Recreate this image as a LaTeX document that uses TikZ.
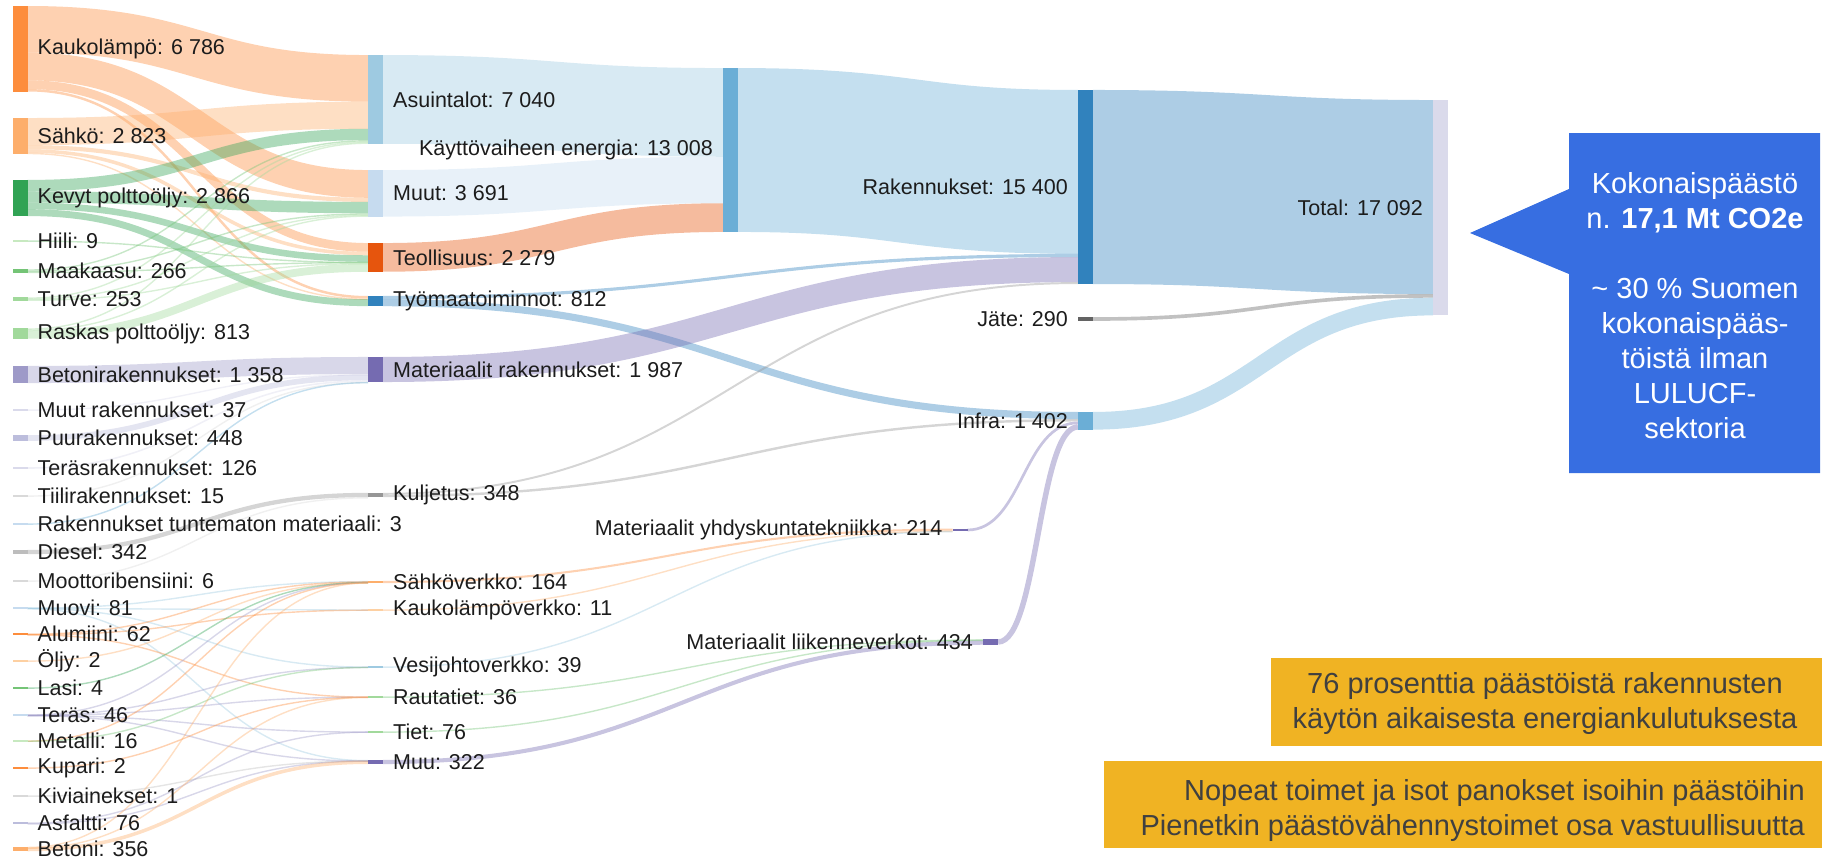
\documentclass[tikz,border=0pt]{standalone}
\usepackage{fontspec}
\setmainfont{Liberation Sans}
\usetikzlibrary{calc}
\pgfdeclarelayer{links}
\pgfsetlayers{links,main}

\definecolor{blueA}{HTML}{3182BD}
\definecolor{blueB}{HTML}{6BAED6}
\definecolor{blueC}{HTML}{9ECAE1}
\definecolor{blueD}{HTML}{C6DBEF}
\definecolor{oranA}{HTML}{E6550D}
\definecolor{oranB}{HTML}{FD8D3C}
\definecolor{oranC}{HTML}{FDAE6B}
\definecolor{oranD}{HTML}{FDD0A2}
\definecolor{grnA}{HTML}{31A354}
\definecolor{grnB}{HTML}{74C476}
\definecolor{grnC}{HTML}{A1D99B}
\definecolor{grnD}{HTML}{C7E9C0}
\definecolor{purA}{HTML}{756BB1}
\definecolor{purB}{HTML}{9E9AC8}
\definecolor{purC}{HTML}{BCBDDC}
\definecolor{purD}{HTML}{DADAEB}
\definecolor{grayA}{HTML}{636363}
\definecolor{grayB}{HTML}{969696}
\definecolor{grayC}{HTML}{BDBDBD}
\definecolor{grayD}{HTML}{D9D9D9}
\definecolor{labtext}{HTML}{1C1C1C}
\definecolor{calloutblue}{HTML}{376EE1}
\definecolor{noteyellow}{HTML}{F0B323}
\definecolor{notetext}{HTML}{404040}

\newcommand\ktpx{0.0126}
\newcommand\labfont{\fontsize{21.5}{25}\selectfont}
\newcommand\notefont{\fontsize{29}{35}\selectfont}

% band from src (offset, kt) to tgt (offset, kt)
\newcommand\flow[6][]{%
  \edef\flowW{\fpeval{max(#6*\ktpx,1.4)}}%
  \edef\flowA{\fpeval{#3*\ktpx+\flowW/2}}%
  \edef\flowB{\fpeval{#5*\ktpx+\flowW/2}}%
  \draw[#1, line width=\flowW pt] let \p1=($(#2.north east)+(0,\flowA)$),
                \p2=($(#4.north west)+(0,\flowB)$),
                \n1={0.5*(\x2-\x1)} in
    (\p1) .. controls +(\n1,0) and +(-\n1,0) .. (\p2);}

\begin{document}
\begin{tikzpicture}[
    x=1pt, y=-1pt,
    label distance=10pt,
    every label/.style={font=\labfont, inner sep=0pt, text=labtext},
    bar/.style={fill=#1, draw=none, inner sep=0pt, outer sep=0pt,
        minimum width=15pt},
    kt/.style={minimum height={\fpeval{max(#1*\ktpx,1.2)}pt}},
    band/.style={draw=#1, draw opacity=0.4}]
    \useasboundingbox (0,0) rectangle (1822,865);

    \node[bar=oranB, kt=6786, label={right:{Kaukolämpö: 6 786}}] (kauko) at (20,48.75) {};
    \node[bar=oranC, kt=2823, label={right:{Sähkö: 2 823}}] (sahko) at (20,135.8) {};
    \node[bar=grnA, kt=2866, label={right:{Kevyt polttoöljy: 2 866}}] (kevyt) at (20,198) {};
    \node[bar=grnD, kt=9, label={right:{Hiili: 9}}] (hiili) at (20,241) {};
    \node[bar=grnB, kt=266, label={right:{Maakaasu: 266}}] (maakaasu) at (20,271) {};
    \node[bar=grnC, kt=253, label={right:{Turve: 253}}] (turve) at (20,299) {};
    \node[bar=grnC, kt=813, label={right:{Raskas polttoöljy: 813}}] (raskas) at (20,333.5) {};
    \node[bar=purB, kt=1358, label={right:{Betonirakennukset: 1 358}}] (betonirak) at (20,374.5) {};
    \node[bar=purD, kt=37, label={right:{Muut rakennukset: 37}}] (muutrak) at (20,410) {};
    \node[bar=purC, kt=448, label={right:{Puurakennukset: 448}}] (puurak) at (20,438) {};
    \node[bar=purD, kt=126, label={right:{Teräsrakennukset: 126}}] (terasrak) at (20,468) {};
    \node[bar=grayD, kt=15, label={right:{Tiilirakennukset: 15}}] (tiili) at (20,496) {};
    \node[bar=blueD, kt=3, label={right:{Rakennukset tuntematon materiaali: 3}}] (tuntematon) at (20,524) {};
    \node[bar=grayC, kt=342, label={right:{Diesel: 342}}] (diesel) at (20,552) {};
    \node[bar=grayD, kt=6, label={right:{Moottoribensiini: 6}}] (moottori) at (20,581) {};
    \node[bar=blueD, kt=81, label={right:{Muovi: 81}}] (muovi) at (20,608) {};
    \node[bar=oranB, kt=62, label={right:{Alumiini: 62}}] (alumiini) at (20,634) {};
    \node[bar=oranD, kt=2, label={right:{Öljy: 2}}] (oljy) at (20,661) {};
    \node[bar=grnB, kt=4, label={right:{Lasi: 4}}] (lasi) at (20,688) {};
    \node[bar=blueD, kt=46, label={right:{Teräs: 46}}] (teras) at (20,715) {};
    \node[bar=grnD, kt=16, label={right:{Metalli: 16}}] (metalli) at (20,741) {};
    \node[bar=oranB, kt=2, label={right:{Kupari: 2}}] (kupari) at (20,768) {};
    \node[bar=grayD, kt=1, label={right:{Kiviainekset: 1}}] (kivi) at (20,796) {};
    \node[bar=purC, kt=76, label={right:{Asfaltti: 76}}] (asfaltti) at (20,823) {};
    \node[bar=oranC, kt=356, label={right:{Betoni: 356}}] (betoni) at (20,849) {};

    \node[bar=blueC, kt=7040, label={right:{Asuintalot: 7 040}}] (asuin) at (375.5,99.4) {};
    \node[bar=blueD, kt=3691, label={right:{Muut: 3 691}}] (muut) at (375.5,193.3) {};
    \node[bar=oranA, kt=2279, label={right:{Teollisuus: 2 279}}] (teoll) at (375.5,257.4) {};
    \node[bar=blueA, kt=812, label={right:{Työmaatoiminnot: 812}}] (tyomaa) at (375.5,301.1) {};
    \node[bar=purA, kt=1987, label={right:{Materiaalit rakennukset: 1 987}}] (matrak) at (375.5,369.5) {};
    \node[bar=grayB, kt=348, label={right:{Kuljetus: 348}}] (kuljetus) at (375.5,495) {};
    \node[bar=oranC, kt=164, label={right:{Sähköverkko: 164}}] (sahkov) at (375.5,582) {};
    \node[bar=oranD, kt=11, label={right:{Kaukolämpöverkko: 11}}] (kaukov) at (375.5,610) {};
    \node[bar=blueC, kt=39, label={right:{Vesijohtoverkko: 39}}] (vesi) at (375.5,667) {};
    \node[bar=grnC, kt=36, label={right:{Rautatiet: 36}}] (rauta) at (375.5,697) {};
    \node[bar=grnC, kt=76, label={right:{Tiet: 76}}] (tiet) at (375.5,732) {};
    \node[bar=purA, kt=322, label={right:{Muu: 322}}] (muu) at (375.5,762) {};

    \node[bar=blueB, kt=13008, label={left:{Käyttövaiheen energia: 13 008}}] (kaytto) at (730.5,150) {};
    \node[bar=purA, kt=214, label={left:{Materiaalit yhdyskuntatekniikka: 214}}] (matyhd) at (960,530) {};
    \node[bar=purA, kt=434, label={left:{Materiaalit liikenneverkot: 434}}] (matliik) at (990.5,642) {};
    \node[bar=blueA, kt=15400, label={left:{Rakennukset: 15 400}}] (rak) at (1085.5,187) {};
    \node[bar=grayA, kt=290, label={left:{Jäte: 290}}] (jate) at (1085.5,319) {};
    \node[bar=blueB, kt=1402, label={left:{Infra: 1 402}}] (infra) at (1085.5,420.8) {};
    \node[bar=purD, kt=17092, label={left:{Total: 17 092}}] (total) at (1440.5,207.7) {};

    \begin{pgfonlayer}{links}
    \flow[band=oranB]{kauko}{0}{asuin}{0}{3700}
    \flow[band=oranB]{kauko}{3700}{muut}{0}{2200}
    \flow[band=oranB]{kauko}{5900}{teoll}{0}{690}
    \flow[band=oranB]{kauko}{6590}{tyomaa}{0}{196}
    \flow[band=oranC]{sahko}{0}{asuin}{3700}{2150}
    \flow[band=oranC]{sahko}{2150}{muut}{2200}{330}
    \flow[band=oranC]{sahko}{2480}{teoll}{690}{280}
    \flow[band=oranC]{sahko}{2760}{tyomaa}{196}{63}
    \flow[band=grnA]{kevyt}{0}{asuin}{5850}{900}
    \flow[band=grnA]{kevyt}{900}{muut}{2530}{900}
    \flow[band=grnA]{kevyt}{1800}{teoll}{970}{520}
    \flow[band=grnA]{kevyt}{2320}{tyomaa}{259}{546}
    \flow[band=grnB]{hiili}{0}{teoll}{1490}{9}
    \flow[band=grnB]{maakaasu}{0}{asuin}{6750}{100}
    \flow[band=grnB]{maakaasu}{100}{muut}{3430}{90}
    \flow[band=grnB]{maakaasu}{190}{teoll}{1499}{76}
    \flow[band=grnC]{turve}{0}{asuin}{6850}{90}
    \flow[band=grnC]{turve}{90}{muut}{3520}{81}
    \flow[band=grnC]{turve}{171}{teoll}{1575}{82}
    \flow[band=grnC]{raskas}{0}{asuin}{6940}{100}
    \flow[band=grnC]{raskas}{100}{muut}{3601}{90}
    \flow[band=grnC]{raskas}{190}{teoll}{1657}{622}

    \flow[band=blueC]{asuin}{0}{kaytto}{0}{7040}
    \flow[band=blueD]{muut}{0}{kaytto}{7040}{3691}
    \flow[band=oranA]{teoll}{0}{kaytto}{10731}{2277}
    \flow[band=blueB]{kaytto}{0}{rak}{0}{13008}
    \flow[band=blueA]{tyomaa}{0}{rak}{13008}{250}
    \flow[band=blueA]{tyomaa}{250}{infra}{0}{562}
    \flow[band=purA]{matrak}{0}{rak}{13258}{1987}
    \flow[band=grayB]{kuljetus}{0}{rak}{15245}{155}
    \flow[band=grayB]{kuljetus}{155}{infra}{562}{193}
    \flow[band=purA]{matyhd}{0}{infra}{755}{214}
    \flow[band=purA]{matliik}{0}{infra}{969}{433}
    \flow[band=blueA]{rak}{0}{total}{0}{15400}
    \flow[band=grayA]{jate}{0}{total}{15400}{290}
    \flow[band=blueB]{infra}{0}{total}{15690}{1402}

    \flow[band=purB]{betonirak}{0}{matrak}{0}{1358}
    \flow[band=purD]{muutrak}{0}{matrak}{1358}{37}
    \flow[band=purC]{puurak}{0}{matrak}{1395}{448}
    \flow[band=purD]{terasrak}{0}{matrak}{1843}{126}
    \flow[band=grayD]{tiili}{0}{matrak}{1969}{15}
    \flow[band=blueB]{tuntematon}{0}{matrak}{1984}{3}
    \flow[band=grayB]{diesel}{0}{kuljetus}{0}{342}
    \flow[band=grayD]{moottori}{0}{kuljetus}{342}{6}

    \flow[band=blueC]{muovi}{0}{sahkov}{0}{20}
    \flow[band=blueC]{muovi}{20}{kaukov}{0}{6}
    \flow[band=blueC]{muovi}{26}{vesi}{0}{25}
    \flow[band=blueC]{muovi}{51}{muu}{0}{30}
    \flow[band=oranB]{alumiini}{0}{sahkov}{20}{50}
    \flow[band=oranB]{alumiini}{50}{kaukov}{6}{5}
    \flow[band=oranB]{alumiini}{55}{rauta}{0}{7}
    \flow[band=oranC]{oljy}{0}{sahkov}{70}{2}
    \flow[band=grnA]{lasi}{0}{sahkov}{72}{4}
    \flow[band=purB]{teras}{0}{sahkov}{76}{20}
    \flow[band=purB]{teras}{20}{vesi}{25}{6}
    \flow[band=purB]{teras}{26}{rauta}{7}{10}
    \flow[band=purB]{teras}{36}{tiet}{0}{6}
    \flow[band=purB]{teras}{42}{muu}{30}{4}
    \flow[band=oranB]{metalli}{0}{sahkov}{96}{8}
    \flow[band=grnB]{metalli}{8}{vesi}{31}{8}
    \flow[band=oranB]{kupari}{0}{rauta}{17}{2}
    \flow[band=grayC]{kivi}{0}{muu}{34}{1}
    \flow[band=purB]{asfaltti}{0}{tiet}{6}{70}
    \flow[band=purB]{asfaltti}{70}{muu}{35}{6}
    \flow[band=oranC]{betoni}{0}{sahkov}{104}{60}
    \flow[band=oranC]{betoni}{60}{rauta}{19}{17}
    \flow[band=oranC]{betoni}{77}{muu}{41}{279}

    \flow[band=oranB]{sahkov}{0}{matyhd}{0}{164}
    \flow[band=oranC]{kaukov}{0}{matyhd}{164}{11}
    \flow[band=blueC]{vesi}{0}{matyhd}{175}{39}
    \flow[band=grnB]{rauta}{0}{matliik}{0}{36}
    \flow[band=grnB]{tiet}{0}{matliik}{36}{76}
    \flow[band=purA]{muu}{0}{matliik}{112}{322}
    \end{pgfonlayer}

    \fill[calloutblue] (1569,133) -- (1820,133) -- (1820,473) -- (1569,473)
        -- (1569,274) -- (1470,233) -- (1569,189) -- cycle;
    \node[font=\notefont, text=white, align=center, inner sep=0pt] (callout) at (1695,306)
        {Kokonaispäästö\\n. \textbf{17,1 Mt CO2e}\\[35pt]\textasciitilde{} 30 \% Suomen\\kokonaispääs-\\töistä ilman\\LULUCF-\\sektoria};

    \fill[noteyellow] (1271,658) rectangle (1822,746);
    \node[font=\notefont, text=notetext, align=center, inner sep=0pt] (note1) at (1545,703)
        {76 prosenttia päästöistä rakennusten\\käytön aikaisesta energiankulutuksesta};
    \fill[noteyellow] (1104,761) rectangle (1822,848);
    \node[font=\notefont, text=notetext, align=right, inner sep=0pt, anchor=east] (note2) at (1805,810)
        {Nopeat toimet ja isot panokset isoihin päästöihin\\Pienetkin päästövähennystoimet osa vastuullisuutta};
\end{tikzpicture}
\end{document}
